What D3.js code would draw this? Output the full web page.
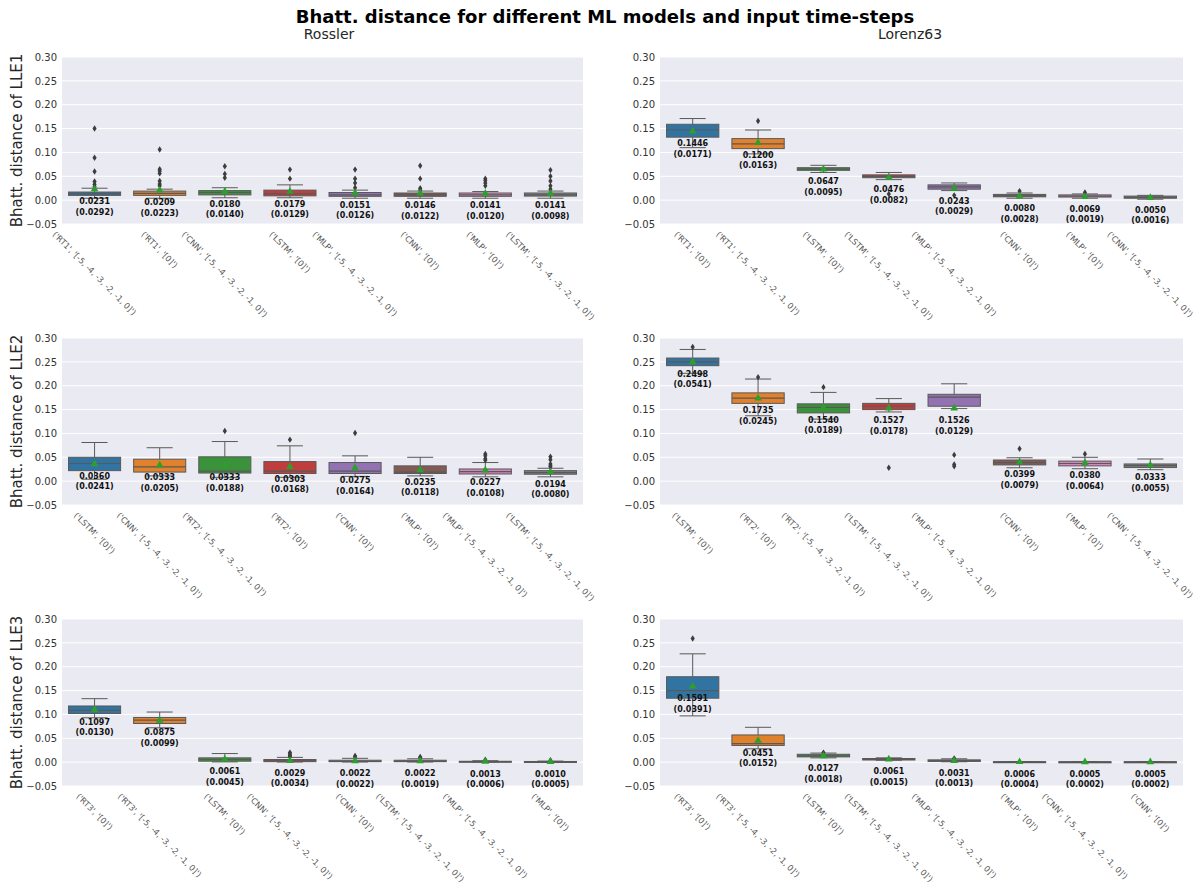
<!DOCTYPE html>
<html>
<head>
<meta charset="utf-8">
<script src="https://cdn.jsdelivr.net/npm/d3@7"></script>
<style>
  body { margin: 0; background: #fff; }
  svg text { font-family: "DejaVu Sans", sans-serif; }
</style>
</head>
<body>
<svg id="chart" width="1197" height="888"></svg>
<script>
// ---------- data ----------
const yTicks = [-0.05, 0.00, 0.05, 0.10, 0.15, 0.20, 0.25, 0.30];
const systems = ["Rossler", "Lorenz63"];
const exponents = ["LLE1", "LLE2", "LLE3"];

// Rossler / LLE1
const rosLle1Cats = ["('RT1', '[-5, -4, -3, -2, -1, 0]')", "('RT1', '[0]')", "('CNN', '[-5, -4, -3, -2, -1, 0]')", "('LSTM', '[0]')", "('MLP', '[-5, -4, -3, -2, -1, 0]')", "('CNN', '[0]')", "('MLP', '[0]')", "('LSTM', '[-5, -4, -3, -2, -1, 0]')"];
const rosLle1Mean = [0.0231, 0.0209, 0.0180, 0.0179, 0.0151, 0.0146, 0.0141, 0.0141];
const rosLle1Std = [0.0292, 0.0223, 0.0140, 0.0129, 0.0126, 0.0122, 0.0120, 0.0098];
// [lower whisker, Q1, median, Q3, upper whisker]
const rosLle1Box = [[0.004, 0.010, 0.013, 0.017, 0.025], [0.004, 0.010, 0.014, 0.019, 0.023], [0.005, 0.011, 0.016, 0.020, 0.026], [0.005, 0.009, 0.013, 0.021, 0.032], [0.004, 0.008, 0.011, 0.016, 0.021], [0.004, 0.008, 0.011, 0.015, 0.019], [0.004, 0.008, 0.011, 0.015, 0.018], [0.004, 0.0085, 0.011, 0.015, 0.019]];
const rosLle1Out = [[0.150, 0.089, 0.060, 0.039, 0.033, 0.028], [0.106, 0.065, 0.061, 0.056, 0.040, 0.034, 0.030], [0.071, 0.055, 0.047], [0.064, 0.045], [0.064, 0.045, 0.036, 0.026], [0.072, 0.045, 0.025, 0.021], [0.045, 0.041, 0.036, 0.030], [0.063, 0.050, 0.040, 0.030, 0.023]];

// Lorenz63 / LLE1
const lorLle1Cats = ["('RT1', '[0]')", "('RT1', '[-5, -4, -3, -2, -1, 0]')", "('LSTM', '[0]')", "('LSTM', '[-5, -4, -3, -2, -1, 0]')", "('MLP', '[-5, -4, -3, -2, -1, 0]')", "('CNN', '[0]')", "('MLP', '[0]')", "('CNN', '[-5, -4, -3, -2, -1, 0]')"];
const lorLle1Mean = [0.1446, 0.1200, 0.0647, 0.0476, 0.0243, 0.0080, 0.0069, 0.0050];
const lorLle1Std = [0.0171, 0.0163, 0.0095, 0.0082, 0.0029, 0.0028, 0.0019, 0.0016];
const lorLle1Box = [[0.110, 0.132, 0.147, 0.159, 0.171], [0.097, 0.108, 0.118, 0.129, 0.147], [0.058, 0.0625, 0.065, 0.068, 0.073], [0.043, 0.047, 0.050, 0.053, 0.058], [0.020, 0.023, 0.028, 0.032, 0.036], [0.004, 0.007, 0.009, 0.012, 0.015], [0.004, 0.0065, 0.0085, 0.011, 0.013], [0.002, 0.004, 0.006, 0.0085, 0.010]];
const lorLle1Out = [[], [0.166], [], [0.013], [0.010], [0.019], [0.016], []];

// Rossler / LLE2
const rosLle2Cats = ["('LSTM', '[0]')", "('CNN', '[-5, -4, -3, -2, -1, 0]')", "('RT2', '[-5, -4, -3, -2, -1, 0]')", "('RT2', '[0]')", "('CNN', '[0]')", "('MLP', '[0]')", "('MLP', '[-5, -4, -3, -2, -1, 0]')", "('LSTM', '[-5, -4, -3, -2, -1, 0]')"];
const rosLle2Mean = [0.0360, 0.0333, 0.0333, 0.0303, 0.0275, 0.0235, 0.0227, 0.0194];
const rosLle2Std = [0.0241, 0.0205, 0.0188, 0.0168, 0.0164, 0.0118, 0.0108, 0.0080];
const rosLle2Box = [[0.004, 0.022, 0.037, 0.050, 0.081], [0.011, 0.019, 0.030, 0.046, 0.070], [0.008, 0.017, 0.021, 0.051, 0.083], [0.008, 0.016, 0.021, 0.041, 0.074], [0.010, 0.016, 0.021, 0.039, 0.053], [0.011, 0.016, 0.019, 0.032, 0.050], [0.009, 0.015, 0.020, 0.0255, 0.039], [0.009, 0.0145, 0.018, 0.022, 0.027]];
const rosLle2Out = [[], [], [0.105], [0.087], [0.101], [], [0.057, 0.053, 0.047, 0.044], [0.051, 0.045, 0.036, 0.032, 0.030]];

// Lorenz63 / LLE2
const lorLle2Cats = ["('LSTM', '[0]')", "('RT2', '[0]')", "('RT2', '[-5, -4, -3, -2, -1, 0]')", "('LSTM', '[-5, -4, -3, -2, -1, 0]')", "('MLP', '[-5, -4, -3, -2, -1, 0]')", "('CNN', '[0]')", "('MLP', '[0]')", "('CNN', '[-5, -4, -3, -2, -1, 0]')"];
const lorLle2Mean = [0.2498, 0.1735, 0.1540, 0.1527, 0.1526, 0.0399, 0.0380, 0.0333];
const lorLle2Std = [0.0541, 0.0245, 0.0189, 0.0178, 0.0129, 0.0079, 0.0064, 0.0055];
const lorLle2Box = [[0.226, 0.242, 0.250, 0.258, 0.276], [0.137, 0.163, 0.174, 0.185, 0.214], [0.130, 0.143, 0.1545, 0.162, 0.186], [0.145, 0.150, 0.157, 0.163, 0.173], [0.152, 0.157, 0.176, 0.182, 0.204], [0.028, 0.034, 0.039, 0.0443, 0.049], [0.026, 0.032, 0.037, 0.042, 0.050], [0.024, 0.0285, 0.0326, 0.036, 0.0464]];
const lorLle2Out = [[0.281], [0.218], [0.197], [0.028], [0.055, 0.035, 0.031], [0.068], [0.057], []];

// Rossler / LLE3
const rosLle3Cats = ["('RT3', '[0]')", "('RT3', '[-5, -4, -3, -2, -1, 0]')", "('LSTM', '[0]')", "('CNN', '[-5, -4, -3, -2, -1, 0]')", "('CNN', '[0]')", "('LSTM', '[-5, -4, -3, -2, -1, 0]')", "('MLP', '[-5, -4, -3, -2, -1, 0]')", "('MLP', '[0]')"];
const rosLle3Mean = [0.1097, 0.0875, 0.0061, 0.0029, 0.0022, 0.0022, 0.0013, 0.0010];
const rosLle3Std = [0.0130, 0.0099, 0.0045, 0.0034, 0.0022, 0.0019, 0.0006, 0.0005];
const rosLle3Box = [[0.093, 0.102, 0.1087, 0.1177, 0.133], [0.072, 0.081, 0.088, 0.0936, 0.105], [0.0005, 0.002, 0.0055, 0.009, 0.018], [0.0003, 0.001, 0.0025, 0.0055, 0.010], [0.0003, 0.001, 0.0018, 0.004, 0.008], [0.0003, 0.001, 0.0018, 0.004, 0.007], [0.0003, 0.0008, 0.0012, 0.0018, 0.003], [0.0002, 0.0006, 0.0009, 0.0014, 0.0022]];
const rosLle3Out = [[], [], [], [0.020, 0.017, 0.014, 0.012], [0.013, 0.011], [0.011, 0.009], [0.005], [0.004]];

// Lorenz63 / LLE3
const lorLle3Cats = ["('RT3', '[0]')", "('RT3', '[-5, -4, -3, -2, -1, 0]')", "('LSTM', '[0]')", "('LSTM', '[-5, -4, -3, -2, -1, 0]')", "('MLP', '[-5, -4, -3, -2, -1, 0]')", "('MLP', '[0]')", "('CNN', '[-5, -4, -3, -2, -1, 0]')", "('CNN', '[0]')"];
const lorLle3Mean = [0.1591, 0.0451, 0.0127, 0.0061, 0.0031, 0.0006, 0.0005, 0.0005];
const lorLle3Std = [0.0391, 0.0152, 0.0018, 0.0015, 0.0013, 0.0004, 0.0002, 0.0002];
const lorLle3Box = [[0.097, 0.134, 0.150, 0.179, 0.227], [0.028, 0.035, 0.039, 0.057, 0.073], [0.009, 0.011, 0.013, 0.0165, 0.019], [0.004, 0.0045, 0.0062, 0.0076, 0.009], [0.0008, 0.0015, 0.003, 0.0048, 0.007], [0.0001, 0.0003, 0.0005, 0.0009, 0.0012], [0.0002, 0.0003, 0.0005, 0.0007, 0.0009], [0.0002, 0.0003, 0.0005, 0.0007, 0.0009]];
const lorLle3Out = [[0.259], [], [0.020], [], [0.008], [], [], []];

const palette = ["#3274a1", "#e1812c", "#3a923a", "#c03d3e", "#9372b2", "#845b53", "#d684bd", "#7f7f7f"];

// ---------- layout ----------
const colX = [62, 660];
const colW = [521, 523];
const rowY = [57, 338, 619];
const plotH = 167;

const panels = [
  { row: 0, col: 0, cats: rosLle1Cats, mean: rosLle1Mean, std: rosLle1Std, box: rosLle1Box, out: rosLle1Out },
  { row: 0, col: 1, cats: lorLle1Cats, mean: lorLle1Mean, std: lorLle1Std, box: lorLle1Box, out: lorLle1Out },
  { row: 1, col: 0, cats: rosLle2Cats, mean: rosLle2Mean, std: rosLle2Std, box: rosLle2Box, out: rosLle2Out },
  { row: 1, col: 1, cats: lorLle2Cats, mean: lorLle2Mean, std: lorLle2Std, box: lorLle2Box, out: lorLle2Out },
  { row: 2, col: 0, cats: rosLle3Cats, mean: rosLle3Mean, std: rosLle3Std, box: rosLle3Box, out: rosLle3Out },
  { row: 2, col: 1, cats: lorLle3Cats, mean: lorLle3Mean, std: lorLle3Std, box: lorLle3Box, out: lorLle3Out }
];

const svg = d3.select("#chart");
const lineCol = "#595959";

svg.append("text")
  .attr("x", 605).attr("y", 23)
  .attr("text-anchor", "middle")
  .attr("font-size", 18).attr("font-weight", "bold").attr("fill", "#000")
  .text("Bhatt. distance for different ML models and input time-steps");

const subX = [329, 910];
systems.forEach((s, i) => {
  svg.append("text")
    .attr("x", subX[i]).attr("y", 39)
    .attr("text-anchor", "middle")
    .attr("font-size", 14).attr("fill", "#262626")
    .text(s);
});

const flier = "M0,-3.2L2.1,0L0,3.2L-2.1,0Z";

panels.forEach(p => {
  const x0 = colX[p.col], w = colW[p.col], y0 = rowY[p.row];
  const g = svg.append("g");

  const x = d3.scaleBand().domain(d3.range(p.cats.length))
    .range([x0, x0 + w]).paddingInner(0.2).paddingOuter(0.1);
  const y = d3.scaleLinear().domain([-0.05, 0.30]).range([y0 + plotH, y0]);
  const bw = x.bandwidth();

  g.append("rect").attr("x", x0).attr("y", y0).attr("width", w).attr("height", plotH).attr("fill", "#eaeaf2");

  // horizontal grid
  g.selectAll(".grid").data(yTicks).join("line")
    .attr("x1", x0).attr("x2", x0 + w)
    .attr("y1", d => y(d)).attr("y2", d => y(d))
    .attr("stroke", "#fff").attr("stroke-width", 1);

  // y axis
  const ax = g.append("g").attr("transform", `translate(${x0},0)`)
    .call(d3.axisLeft(y).tickValues(yTicks).tickSize(0).tickPadding(5).tickFormat(d3.format(".2f")));
  ax.select(".domain").remove();
  ax.selectAll("text").attr("font-size", 10).attr("fill", "#333").attr("font-family", "DejaVu Sans");

  if (p.col === 0) {
    g.append("text")
      .attr("transform", `translate(17,${y0 + plotH / 2}) rotate(-90)`)
      .attr("text-anchor", "middle").attr("dominant-baseline", "central")
      .attr("font-size", 15).attr("fill", "#262626")
      .text("Bhatt. distance of " + exponents[p.row]);
  }

  p.cats.forEach((c, i) => {
    const [lo, q1, med, q3, hi] = p.box[i];
    const cx = x(i) + bw / 2;
    const capW = bw / 2;
    const b = g.append("g");
    // whiskers
    b.append("line").attr("x1", cx).attr("x2", cx).attr("y1", y(q3)).attr("y2", y(hi)).attr("stroke", lineCol);
    b.append("line").attr("x1", cx).attr("x2", cx).attr("y1", y(q1)).attr("y2", y(lo)).attr("stroke", lineCol);
    b.append("line").attr("x1", cx - capW / 2).attr("x2", cx + capW / 2).attr("y1", y(hi)).attr("y2", y(hi)).attr("stroke", lineCol);
    b.append("line").attr("x1", cx - capW / 2).attr("x2", cx + capW / 2).attr("y1", y(lo)).attr("y2", y(lo)).attr("stroke", lineCol);
    // box
    b.append("rect").attr("x", x(i)).attr("y", y(q3)).attr("width", bw)
      .attr("height", Math.max(y(q1) - y(q3), 1))
      .attr("fill", palette[i]).attr("stroke", lineCol).attr("stroke-width", 1);
    b.append("line").attr("x1", x(i)).attr("x2", x(i) + bw).attr("y1", y(med)).attr("y2", y(med)).attr("stroke", lineCol).attr("stroke-width", 1.2);
    // outliers
    b.selectAll(".fl").data(p.out[i]).join("path")
      .attr("d", flier).attr("transform", d => `translate(${cx},${y(d)})`)
      .attr("fill", "#3d3d3d");
    // mean marker
    b.append("path").attr("d", d3.symbol(d3.symbolTriangle, 26)())
      .attr("transform", `translate(${cx},${y(p.mean[i])})`)
      .attr("fill", "#2ca02c");
    // mean / std annotation
    const t = g.append("text").attr("text-anchor", "middle").attr("font-size", 8)
      .attr("font-weight", "bold").attr("fill", "#111");
    t.append("tspan").attr("x", cx).attr("y", y(p.mean[i]) + 15).text(p.mean[i].toFixed(4));
    t.append("tspan").attr("x", cx).attr("y", y(p.mean[i]) + 25.5).text("(" + p.std[i].toFixed(4) + ")");

    // rotated category label
    const fs = 8.2;
    const lab = g.append("text").attr("text-anchor", "middle").attr("dominant-baseline", "central")
      .attr("font-size", fs).attr("fill", "#555").text(c);
    const L = lab.node().getComputedTextLength();
    const half = (L + fs) * Math.SQRT1_2 / 2;
    lab.attr("transform", `translate(${cx},${y0 + plotH + 6 + half}) rotate(45)`);
  });
});
</script>
</body>
</html>
